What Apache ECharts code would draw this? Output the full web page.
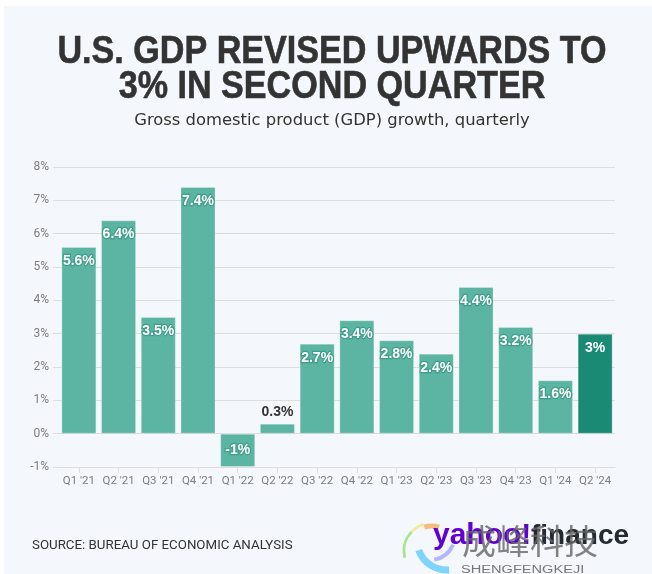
<!DOCTYPE html>
<html>
<head>
<meta charset="utf-8">
<style>
  html, body { margin: 0; padding: 0; background: #fff; }
  #main { width: 652px; height: 574px; }
</style>
<script src="https://cdn.jsdelivr.net/npm/echarts@6/dist/echarts.min.js"></script>
</head>
<body>
<div id="main"></div>
<script>
const quarters = ["Q1 '21", "Q2 '21", "Q3 '21", "Q4 '21", "Q1 '22", "Q2 '22", "Q3 '22", "Q4 '22", "Q1 '23", "Q2 '23", "Q3 '23", "Q4 '23", "Q1 '24", "Q2 '24"];
const growth = [5.6, 6.4, 3.5, 7.4, -1, 0.3, 2.7, 3.4, 2.8, 2.4, 4.4, 3.2, 1.6, 3];

const TEAL = '#5bb5a2';
const DARK_TEAL = '#1b8a74';
const INK = '#333333';
const TICK_GREY = '#7d7d7d';

let myChart = echarts.init(document.getElementById('main'), null, { renderer: 'canvas' });

let barData = growth.map(function (v, i) {
  let isLast = i === growth.length - 1;
  let isSmall = v === 0.3;
  return {
    value: v,
    itemStyle: { color: isLast ? DARK_TEAL : TEAL },
    label: isSmall
      ? { position: 'top', distance: 5, color: INK, textBorderWidth: 0 }
      : {
          position: v < 0 ? 'inside' : 'insideTop',
          distance: 7,
          color: '#fff',
          textBorderColor: isLast ? DARK_TEAL : '#3f9f8b',
          textBorderWidth: 2.5
        }
  };
});

// title lines are stretched a bit, nothing installed is as tall and narrow
function titleLine(text, y) {
  return {
    type: 'text',
    x: 332,
    y: y,
    scaleX: 0.875,
    style: {
      text: text,
      font: 'bold 39px "Liberation Sans"',
      fill: INK,
      stroke: INK,
      lineWidth: 0.6,
      align: 'center',
      verticalAlign: 'middle'
    }
  };
}

function swirl(cx, cy, r, start, end, color, width) {
  return {
    type: 'arc',
    shape: { cx: cx, cy: cy, r: r, startAngle: start, endAngle: end },
    style: { stroke: color, lineWidth: width, fill: 'none' }
  };
}

let option = {
  animation: false,
  backgroundColor: '#fff',
  grid: { left: 59, right: 37, top: 167, height: 300 },
  graphic: [
    // panel behind the chart
    { type: 'rect', z: -10, shape: { x: 4, y: 6, width: 648, height: 568 }, style: { fill: '#f4f7fb' } },
    titleLine('U.S. GDP REVISED UPWARDS TO', 52),
    titleLine('3% IN SECOND QUARTER', 87),
    { type: 'text', x: 332, y: 121, style: { text: 'Gross domestic product (GDP) growth, quarterly', font: '16.4px "DejaVu Sans"', fill: INK, align: 'center', verticalAlign: 'middle' } },
    { type: 'text', left: 32, top: 539, style: { text: 'SOURCE: BUREAU OF ECONOMIC ANALYSIS', font: '13.3px Roboto', fill: INK } },
    // logo and watermark
    swirl(432, 551, 28, 2.9, 3.9, '#a6e38a', 2.5),
    swirl(432, 551, 28, 3.9, 4.4, '#f3ea8c', 2.5),
    swirl(432, 551, 25, 4.4, 5.0, '#f8bb7c', 5),
    swirl(447, 540, 30, 1.5, 2.8, '#7fd4fb', 7),
    swirl(430, 535, 25, 0.4, 1.4, '#b3b6fb', 4),
    { type: 'text', left: 433, top: 521, style: { text: 'yahoo!', font: 'bold 30px "Liberation Sans"', fill: '#6001d2' } },
    { type: 'text', left: 531, top: 522, style: { text: 'finance', font: 'bold 28px "Liberation Sans"', fill: '#232a31' } },
    { type: 'text', left: 462, top: 524, z: 20, style: { text: '成峰科技', font: '34px "Noto Sans CJK SC"', fill: 'rgba(100,100,100,0.8)' } },
    { type: 'text', x: 461, y: 570, scaleX: 1.46, z: 20, style: { text: 'SHENGFENGKEJI', font: '10px "Liberation Sans"', fill: '#777', verticalAlign: 'middle' } }
  ],
  xAxis: {
    type: 'category',
    data: quarters,
    axisLine: { onZero: false, lineStyle: { color: '#dddddd', width: 1 } },
    axisTick: { show: true, alignWithLabel: true, length: 6, lineStyle: { color: '#dddddd' } },
    axisLabel: { interval: 0, margin: 8, color: TICK_GREY, fontFamily: 'Roboto', fontSize: 11.5 }
  },
  yAxis: {
    type: 'value',
    min: -1,
    max: 8,
    interval: 1,
    axisLine: { show: false },
    axisTick: { show: true, length: 6, lineStyle: { color: '#dddddd' } },
    axisLabel: {
      margin: 10,
      color: TICK_GREY,
      fontFamily: 'Roboto',
      fontSize: 12,
      formatter: '{value}%'
    },
    splitLine: { lineStyle: { color: '#dddddd', width: 1 } }
  },
  series: [
    {
      type: 'bar',
      data: barData,
      barWidth: 35,
      itemStyle: { borderColor: 'rgba(255,255,255,0.25)', borderWidth: 1 },
      label: {
        show: true,
        fontFamily: 'Liberation Sans',
        fontWeight: 'bold',
        fontSize: 14,
        formatter: '{c}%'
      }
    }
  ]
};

myChart.setOption(option);
</script>
</body>
</html>
